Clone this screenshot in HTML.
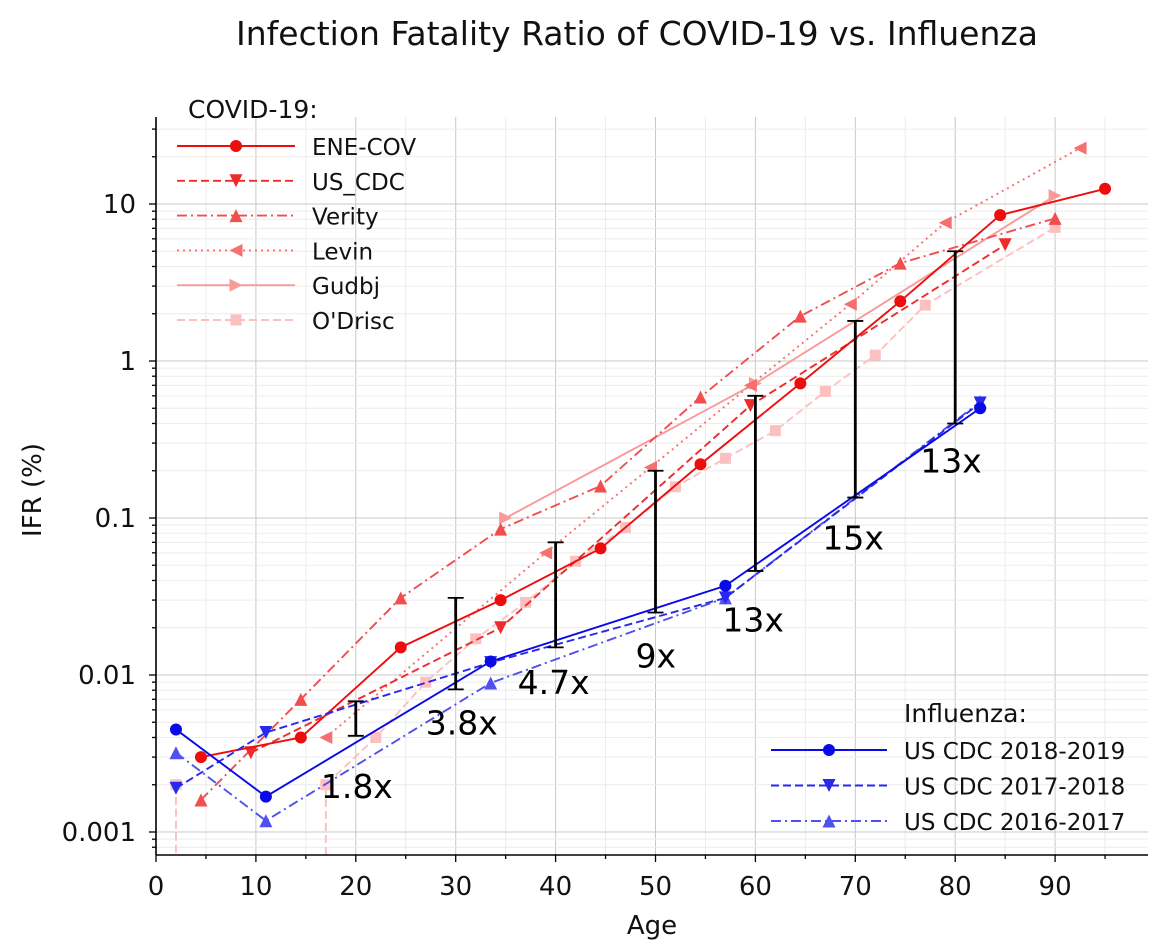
<!DOCTYPE html>
<html><head><meta charset="utf-8"><style>
html,body{margin:0;padding:0;background:#fff;}
svg{display:block;font-family:"DejaVu Sans","Liberation Sans",sans-serif;}
</style></head><body>
<svg id="chart" width="1171" height="947" viewBox="0 0 1171 947" xmlns="http://www.w3.org/2000/svg">
<text x="637" y="45" font-size="33" text-anchor="middle" fill="#111">Infection Fatality Ratio of COVID-19 vs. Influenza</text>
<text x="652" y="934" font-size="26" text-anchor="middle" fill="#111">Age</text>
<text transform="translate(41,490) rotate(-90)" font-size="26" text-anchor="middle" fill="#111">IFR (%)</text>
<g id="grid"></g><g id="series"></g><g id="axes"></g><g id="legend"></g>
</svg>
<script>
const xTicks=[0,10,20,30,40,50,60,70,80,90];
const yTicks=[0.001,0.01,0.1,1,10];
const yTickLabels=["0.001","0.01","0.1","1","10"];
const eneAges=[4.5,14.5,24.5,34.5,44.5,54.5,64.5,74.5,84.5,95];
const eneVals=[0.003,0.004,0.015,0.030,0.064,0.22,0.72,2.4,8.5,12.5];
const cdcAges=[9.5,34.5,59.5,85];
const cdcVals=[0.0032,0.020,0.52,5.5];
const verityAges=[4.5,14.5,24.5,34.5,44.5,54.5,64.5,74.5,90];
const verityVals=[0.0016,0.007,0.031,0.085,0.16,0.59,1.93,4.2,8.1];
const levinAges=[17,39,49.5,59.5,69.5,79,92.5];
const levinVals=[0.004,0.06,0.21,0.7,2.3,7.6,22.7];
const gudbjAges=[35,60,90];
const gudbjVals=[0.1,0.72,11.3];
const odrAges=[2,7,12,17,22,27,32,37,42,47,52,57,62,67,72,77,90];
const odrVals=[0.002,0,0,0.002,0.004,0.009,0.017,0.029,0.053,0.087,0.158,0.24,0.36,0.64,1.09,2.27,7.1];
const fluAges=[2,11,33.5,57,82.5];
const flu1819=[0.0045,0.00168,0.0122,0.037,0.5];
const flu1718=[0.0019,0.0043,0.012,0.031,0.54];
const flu1617=[0.0032,0.00118,0.0089,0.031,0.55];
const barAges=[20,30,40,50,60,70,80];
const barLow=[0.0041,0.0081,0.015,0.025,0.046,0.135,0.40];
const barHigh=[0.0068,0.031,0.070,0.20,0.60,1.8,5.0];
const ratioLabels=["1.8x","3.8x","4.7x","9x","13x","15x","13x"];
const ratioAges=[16.5,27,36.2,48,56.7,66.7,76.5];
const ratioVals=[0.0017,0.0043,0.0078,0.0115,0.0195,0.065,0.20];

const NS="http://www.w3.org/2000/svg";
const X0=156,XS=9.99,Y1=361,YS=157,TOP=117,BOT=855,RIGHT=1148;
const xs=a=>X0+XS*a;
const ys=v=>Y1-YS*Math.log10(v);
function mk(tag,attrs,parent){const e=document.createElementNS(NS,tag);for(const k in attrs)e.setAttribute(k,attrs[k]);parent.appendChild(e);return e;}
const grid=document.getElementById('grid'),ser=document.getElementById('series'),axes=document.getElementById('axes'),leg=document.getElementById('legend');
for(let a=5;a<RIGHT;a+=5){const x=xs(a);if(x>RIGHT)break;const major=a%10===0;
 const l=mk('line',{x1:x,x2:x,y1:TOP,y2:BOT,stroke:major?'#c8c8c8':'#ececec','stroke-width':1},grid);
 }
for(let d=-4;d<=1;d++){for(let m=1;m<10;m++){const v=m*Math.pow(10,d);const y=ys(v);if(y<TOP||y>BOT)continue;
 const l=mk('line',{x1:X0,x2:RIGHT,y1:y,y2:y,stroke:m===1?'#c8c8c8':'#ececec','stroke-width':1},grid);
 
 const t=mk('line',{x1:X0-(m===1?7:4),x2:X0,y1:y,y2:y,stroke:'#000','stroke-width':1.3},axes);
 }}
let ax=mk('line',{x1:X0,x2:X0,y1:TOP,y2:BOT,stroke:'#000','stroke-width':1.6},axes);

ax=mk('line',{x1:X0,x2:RIGHT,y1:BOT,y2:BOT,stroke:'#000','stroke-width':1.6},axes);

for(let a=0;a<=95;a+=5){const x=xs(a);const t=mk('line',{x1:x,x2:x,y1:BOT,y2:BOT+(a%10===0?7:4),stroke:'#000','stroke-width':1.3},axes);
 }
xTicks.forEach(a=>{const t=mk('text',{x:xs(a),y:BOT+40,'font-size':26,'text-anchor':'middle',fill:'#111'},axes);t.textContent=a;
 });
yTicks.forEach((v,i)=>{const t=mk('text',{x:X0-20,y:ys(v)+9,'font-size':26,'text-anchor':'end',fill:'#111'},axes);t.textContent=yTickLabels[i];
 });
function marker(type,x,y,color,g){const r=6.5;let e;
 if(type==='o')e=mk('circle',{cx:x,cy:y,r:r-0.5,fill:color},g);
 else{let p;if(type==='v')p=[[x-r,y-r],[x+r,y-r],[x,y+r]];
 else if(type==='^')p=[[x-r,y+r],[x+r,y+r],[x,y-r]];
 else if(type==='<')p=[[x+r,y-r],[x+r,y+r],[x-r,y]];
 else if(type==='>')p=[[x-r,y-r],[x-r,y+r],[x+r,y]];
 if(type==='s')e=mk('rect',{x:x-r+1,y:y-r+1,width:2*r-2,height:2*r-2,fill:color},g);
 else e=mk('polygon',{points:p.map(q=>q.join(',')).join(' '),fill:color},g);}
 return e;}
const dashes={solid:'',dash:'8,4',dashdot:'10,4,2,4',dot:'2,4'};
function series(name,ages,vals,color,dash,mtype){const g=mk('g',{},ser);
 
 let segs=[],cur=[];
 ages.forEach((a,i)=>{const v=vals[i];if(v<=0){if(cur.length){cur.push([cur[cur.length-1][0],BOT]);segs.push(cur);}cur=[];
   if(i+1<ages.length&&vals[i+1]>0){cur=[[xs(ages[i+1]),BOT]];}}
   else cur.push([xs(a),ys(v)]);});
 if(cur.length)segs.push(cur);
 segs.forEach(s=>{const pl=mk('polyline',{points:s.map(q=>q.join(',')).join(' '),fill:'none',stroke:color,'stroke-width':1.9,'stroke-dasharray':dashes[dash]},g);
  });
 ages.forEach((a,i)=>{if(vals[i]>0){const m=marker(mtype,xs(a),ys(vals[i]),color,g);
  }});}
series('odrisc-series',odrAges,odrVals,'#fcc0c0','dash','s');
series('gudbj-series',gudbjAges,gudbjVals,'#f99a9a','solid','>');
series('levin-series',levinAges,levinVals,'#f77070','dot','<');
series('verity-series',verityAges,verityVals,'#f24e4e','dashdot','^');
series('us-cdc-series',cdcAges,cdcVals,'#ee2c2c','dash','v');
series('ene-cov-series',eneAges,eneVals,'#ee0d0d','solid','o');
series('flu-2016-2017-series',fluAges,flu1617,'#5050ee','dashdot','^');
series('flu-2017-2018-series',fluAges,flu1718,'#2828ee','dash','v');
series('flu-2018-2019-series',fluAges,flu1819,'#0a0ae8','solid','o');
barAges.forEach((a,i)=>{const g=mk('g',{},ser);
 const x=xs(a),y1=ys(barLow[i]),y2=ys(barHigh[i]);
 mk('line',{x1:x,x2:x,y1:y1,y2:y2,stroke:'#000','stroke-width':2.8},g);
 mk('line',{x1:x-8,x2:x+8,y1:y1,y2:y1,stroke:'#000','stroke-width':1.8},g);
 mk('line',{x1:x-8,x2:x+8,y1:y2,y2:y2,stroke:'#000','stroke-width':1.8},g);});
ratioLabels.forEach((s,i)=>{const t=mk('text',{x:xs(ratioAges[i]),y:ys(ratioVals[i])+2,'font-size':33,fill:'#000'},ser);t.textContent=s;
 });
function legend(title,tx,ty,lx1,lx2,textx,y0,dy,items){const g=mk('g',{},leg);
 
 const t=mk('text',{x:tx,y:ty,'font-size':25,fill:'#111'},g);t.textContent=title;
 
 items.forEach((it,i)=>{const y=y0+dy*i;const e=mk('g',{},g);
  
  mk('line',{x1:lx1,x2:lx2,y1:y,y2:y,stroke:it[1],'stroke-width':1.9,'stroke-dasharray':dashes[it[2]]},e);
  marker(it[3],(lx1+lx2)/2,y,it[1],e);
  const tt=mk('text',{x:textx,y:y+9,'font-size':23,fill:'#111'},e);tt.textContent=it[0];});}
legend('COVID-19:',188,118,177,295,312,146,34.8,[['ENE-COV','#ee0d0d','solid','o'],['US_CDC','#ee2c2c','dash','v'],['Verity','#f24e4e','dashdot','^'],['Levin','#f77070','dot','<'],['Gudbj','#f99a9a','solid','>'],["O'Drisc",'#fcc0c0','dash','s']]);
legend('Influenza:',904,722,771,887,904,750,35.5,[['US CDC 2018-2019','#0a0ae8','solid','o'],['US CDC 2017-2018','#2828ee','dash','v'],['US CDC 2016-2017','#5050ee','dashdot','^']]);
</script>
</body></html>
